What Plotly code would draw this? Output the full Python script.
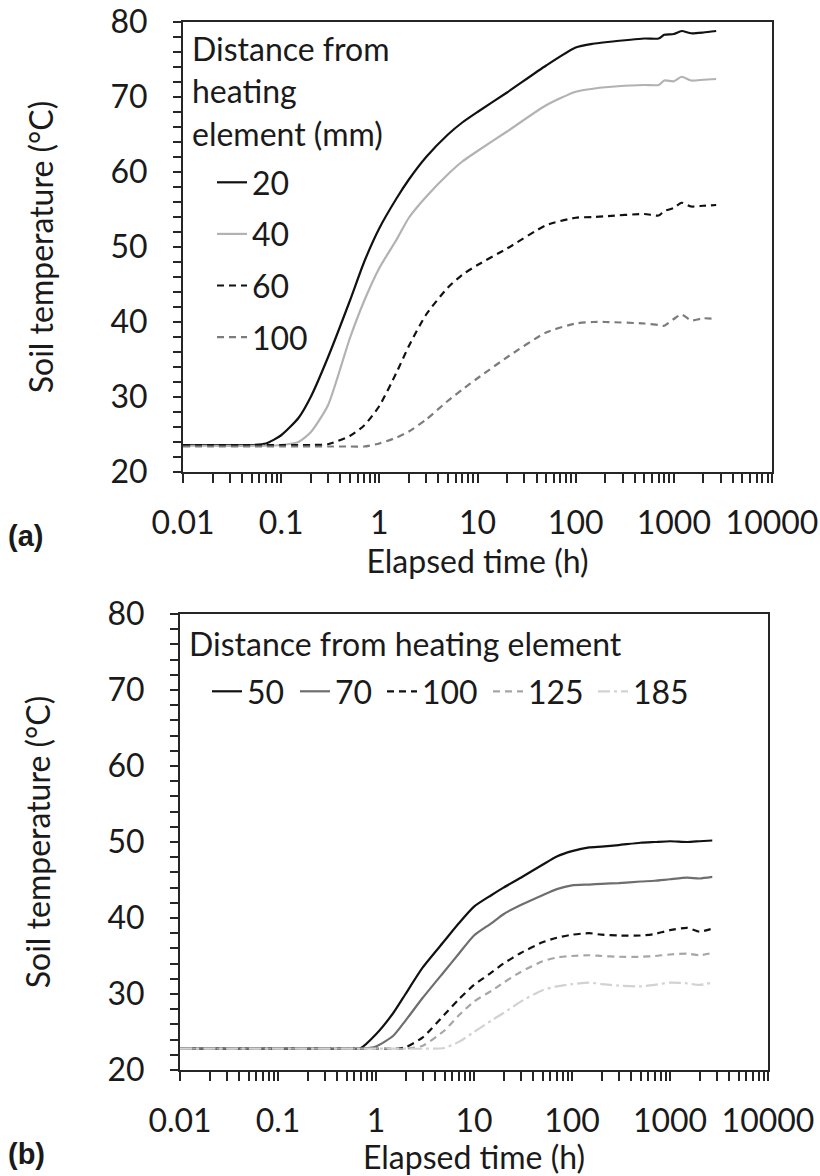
import plotly.graph_objects as go

# ---- panel (a): distances 20-100 mm ----
time_a = [0.01, 0.02, 0.05, 0.07, 0.1, 0.15, 0.2, 0.3, 0.5, 0.7, 1, 1.5, 2, 3, 5, 7,
          10, 20, 50, 100, 150, 200, 500, 700, 800, 1000, 1200, 1500, 2000, 2700]
temp_a_20 = [23.6, 23.6, 23.6, 23.8, 24.9, 27.2, 30.0, 35.3, 42.8, 48.0, 52.5, 56.5, 59.0, 62.0, 65.0, 66.6,
             68.0, 70.6, 74.2, 76.6, 77.1, 77.3, 77.8, 77.8, 78.3, 78.4, 78.8, 78.5, 78.6, 78.8]
temp_a_40 = [23.5, 23.5, 23.5, 23.5, 23.6, 24.0, 25.3, 28.9, 37.8, 42.8, 47.2, 51.0, 53.9, 56.7, 59.7, 61.4,
             62.8, 65.4, 68.9, 70.7, 71.1, 71.3, 71.6, 71.6, 72.2, 72.1, 72.7, 72.2, 72.3, 72.4]
temp_a_60 = [23.6, 23.6, 23.6, 23.6, 23.6, 23.6, 23.6, 23.7, 24.8, 26.2, 28.8, 33.3, 36.8, 41.0, 44.6, 46.3,
             47.6, 49.8, 52.9, 53.9, 54.0, 54.1, 54.4, 54.2, 54.8, 55.2, 55.9, 55.4, 55.5, 55.6]
temp_a_100 = [23.4, 23.4, 23.4, 23.4, 23.4, 23.4, 23.4, 23.4, 23.4, 23.4, 23.8, 24.6, 25.4, 27.0, 29.5, 31.0,
              32.5, 35.3, 38.6, 39.8, 40.0, 40.0, 39.8, 39.6, 39.5, 40.4, 41.0, 40.2, 40.5, 40.4]

# ---- panel (b): distances 50-185 mm ----
time_b = [0.01, 0.03, 0.1, 0.3, 0.5, 0.7, 1, 1.5, 2, 3, 5, 7, 10, 15, 20, 30, 50, 70,
          100, 150, 200, 300, 500, 700, 1000, 1500, 2000, 2700]
temp_b_50 = [22.8, 22.8, 22.8, 22.8, 22.8, 22.9, 24.7, 27.5, 30.0, 33.5, 37.0, 39.3, 41.5, 43.0, 44.0, 45.3, 47.0, 48.1,
             48.8, 49.3, 49.4, 49.6, 49.9, 50.0, 50.1, 50.0, 50.1, 50.2]
temp_b_70 = [22.8, 22.8, 22.8, 22.8, 22.8, 22.8, 23.1, 24.5, 26.5, 29.5, 33.0, 35.3, 37.7, 39.3, 40.5, 41.7, 43.0, 43.8,
             44.3, 44.4, 44.5, 44.6, 44.8, 44.9, 45.1, 45.3, 45.2, 45.4]
temp_b_100 = [22.8, 22.8, 22.8, 22.8, 22.8, 22.8, 22.8, 22.8, 23.0, 24.3, 27.3, 29.3, 31.2, 32.8, 34.0, 35.4, 36.8, 37.4,
              37.8, 38.0, 37.8, 37.7, 37.7, 37.9, 38.4, 38.7, 38.2, 38.6]
temp_b_125 = [22.8, 22.8, 22.8, 22.8, 22.8, 22.8, 22.8, 22.8, 22.8, 23.2, 25.2, 27.2, 29.0, 30.4, 31.5, 32.9, 34.3, 34.8,
              35.0, 35.1, 35.0, 34.9, 34.9, 35.0, 35.2, 35.3, 35.1, 35.4]
temp_b_185 = [22.8, 22.8, 22.8, 22.8, 22.8, 22.8, 22.8, 22.8, 22.8, 22.8, 22.9, 23.7, 25.0, 26.5, 27.5, 29.0, 30.5, 31.0,
              31.3, 31.5, 31.3, 31.1, 31.0, 31.2, 31.5, 31.4, 31.2, 31.5]

x_tickvals = [0.01, 0.1, 1, 10, 100, 1000, 10000]
x_ticktext = ["0.01", "0.1", "1", "10", "100", "1000", "10000"]

FONT = "Lato"
FS = 32
TXT = "#1a1a1a"
AX = "#262626"
W, H = 820, 1176

fig = go.Figure()

series_a = [
    ("20", temp_a_20, "#111111", "solid"),
    ("40", temp_a_40, "#b2b2b2", "solid"),
    ("60", temp_a_60, "#111111", "7px,5px"),
    ("100", temp_a_100, "#7c7c7c", "7px,5px"),
]
for name, ys, col, dash in series_a:
    fig.add_trace(go.Scatter(x=time_a, y=ys, name=name, mode="lines",
                             line=dict(color=col, width=2.2, dash=dash, shape="spline", smoothing=0.6),
                             xaxis="x", yaxis="y", legend="legend",
                             legendgroup="a" + name))

# per-entry widths give the uneven spacing of the horizontal key
series_b = [
    ("50", temp_b_50, "#111111", "solid", 43),
    ("70", temp_b_70, "#6e6e6e", "solid", 42),
    ("100", temp_b_100, "#111111", "7px,5px", 61),
    ("125", temp_b_125, "#a6a6a6", "7px,5px", 60),
    ("185", temp_b_185, "#d2d2d2", "12px,4px,3px,4px", 60),
]
for name, ys, col, dash, lw in series_b:
    fig.add_trace(go.Scatter(x=time_b, y=ys, name=name, mode="lines",
                             line=dict(color=col, width=2.2, dash=dash, shape="spline", smoothing=0.6),
                             xaxis="x2", yaxis="y2", legend="legend2", legendwidth=lw))


def xaxis_cfg(domain, anchor):
    return dict(type="log", range=[-2, 4], domain=domain, anchor=anchor, automargin=False,
                tickvals=x_tickvals, ticktext=x_ticktext,
                showline=True, linecolor=AX, linewidth=2, mirror=True,
                ticks="outside", ticklen=9, tickwidth=2, tickcolor=AX,
                ticklabelstandoff=13,
                minor=dict(ticks="outside", ticklen=9, tickwidth=2, tickcolor=AX,
                           dtick="D1", showgrid=False),
                showgrid=False, zeroline=False,
                tickfont=dict(family=FONT, size=FS, color=TXT),
                title=dict(text="Elapsed time (h)", font=dict(family=FONT, size=FS, color=TXT),
                           standoff=1))


def yaxis_cfg(domain, anchor):
    return dict(range=[20, 80], domain=domain, anchor=anchor, dtick=10, automargin=False,
                showline=True, linecolor=AX, linewidth=2, mirror=True,
                ticks="outside", ticklen=8, tickwidth=2, tickcolor=AX,
                ticklabelstandoff=19,
                minor=dict(ticks="outside", ticklen=8, tickwidth=2, tickcolor=AX,
                           dtick=2, showgrid=False),
                showgrid=False, zeroline=False,
                tickfont=dict(family=FONT, size=FS, color=TXT),
                title=dict(text="Soil temperature (°C)", font=dict(family=FONT, size=FS, color=TXT),
                           standoff=47))


def label(text, x, y, size=FS, family=FONT, xanchor="left"):
    return dict(text=text, x=x / W, y=1 - y / H, xref="paper", yref="paper",
                xanchor=xanchor, yanchor="middle", showarrow=False,
                font=dict(family=family, size=size, color=TXT))


fig.update_layout(
    width=W, height=H,
    margin=dict(l=0, r=0, t=0, b=0, autoexpand=False),
    paper_bgcolor="white", plot_bgcolor="white",
    font=dict(family=FONT, size=FS, color=TXT),
    xaxis=xaxis_cfg([183 / W, 772 / W], "y"),
    yaxis=yaxis_cfg([1 - 472 / H, 1 - 22 / H], "x"),
    xaxis2=xaxis_cfg([180 / W, 768 / W], "y2"),
    yaxis2=yaxis_cfg([1 - 1070 / H, 1 - 614 / H], "x2"),
    legend=dict(x=212 / W, y=1 - 155 / H, xanchor="left", yanchor="top",
                bgcolor="rgba(0,0,0,0)", borderwidth=0,
                font=dict(family=FONT, size=FS, color=TXT),
                tracegroupgap=7, itemwidth=30),
    legend2=dict(x=207 / W, y=1 - 664 / H, xanchor="left", yanchor="top",
                 orientation="h", bgcolor="rgba(0,0,0,0)", borderwidth=0,
                 font=dict(family=FONT, size=FS, color=TXT),
                 itemwidth=30),
    annotations=[
        label("Distance from", 190, 48),
        label("heating", 190, 91),
        label("element (mm)", 190, 134),
        label("Distance from heating element", 187, 643),
        label("<b>(a)</b>", 6, 536, size=29, family="Liberation Sans"),
        label("<b>(b)</b>", 6, 1154, size=29, family="Liberation Sans"),
    ],
)

fig.write_html("out.html")
